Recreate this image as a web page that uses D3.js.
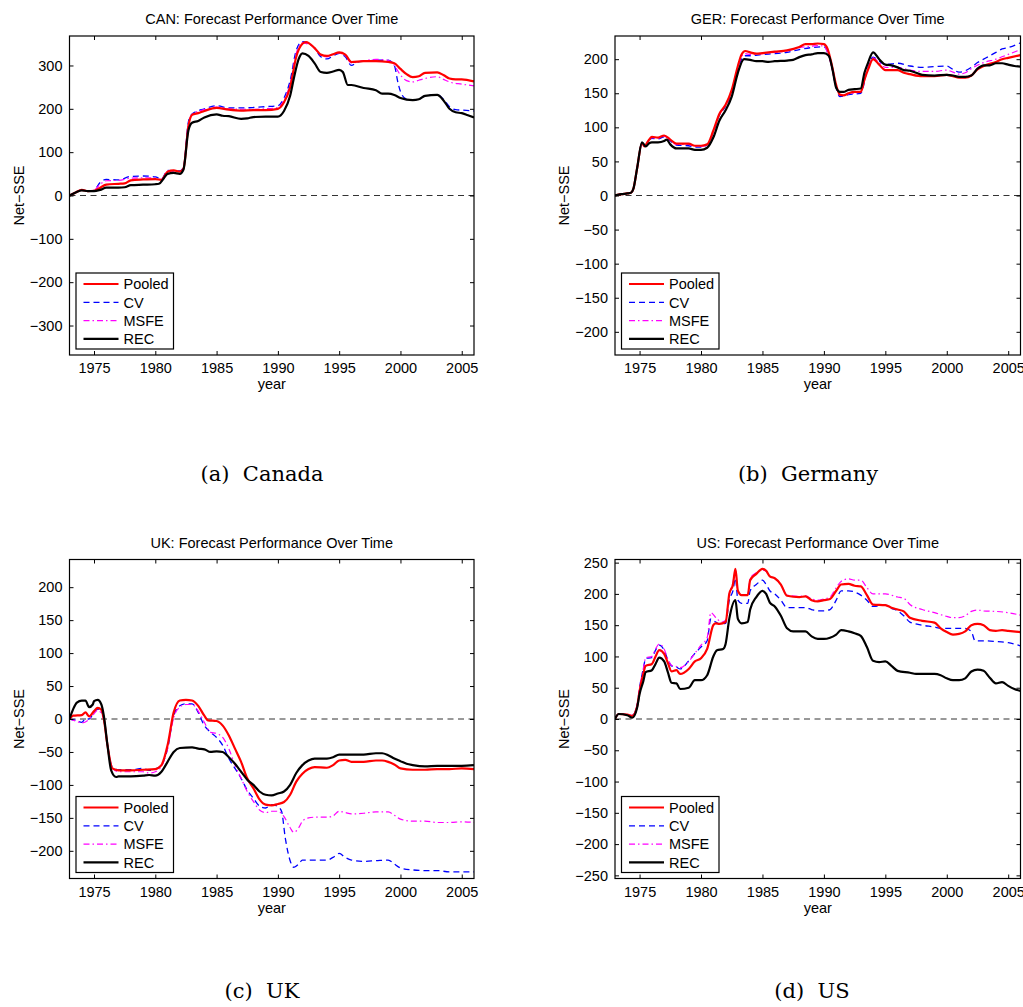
<!DOCTYPE html>
<html><head><meta charset="utf-8">
<script src="https://cdn.jsdelivr.net/npm/d3@7"></script>
<style>body{margin:0;background:#fff}svg{display:block}</style>
</head><body>
<svg id="chart" width="1023" height="1007"></svg>
<script>
// ---------------- DATA ----------------
const xTicks = [1975,1980,1985,1990,1995,2000,2005];
const seriesNames = ["Pooled","CV","MSFE","REC"];
const panelTitles = ["CAN: Forecast Performance Over Time","GER: Forecast Performance Over Time","UK: Forecast Performance Over Time","US: Forecast Performance Over Time"];
const captions = ["(a)  Canada","(b)  Germany","(c)  UK","(d)  US"];
const yLimits = [368,234,242,255];
const yTicksCAN = [-300,-200,-100,0,100,200,300];
const yTicksGER = [-200,-150,-100,-50,0,50,100,150,200];
const yTicksUK  = [-200,-150,-100,-50,0,50,100,150,200];
const yTicksUS  = [-250,-200,-150,-100,-50,0,50,100,150,200,250];

// Canada
const canPooled = [[1973,0],[1973.5,7],[1974,13],[1974.5,10],[1975,11],[1975.5,18],[1976,25],[1977,27],[1977.5,28],[1978,35],[1979,37],[1980,38],[1980.5,36],[1981,55],[1981.5,58],[1982,55],[1982.3,62],[1982.7,160],[1983,186],[1983.5,190],[1984,195],[1985,202],[1986,198],[1987,196],[1988,197],[1989,197],[1990,200],[1990.5,215],[1991,250],[1991.5,320],[1992,350],[1992.3,354],[1993,340],[1993.5,325],[1994,322],[1994.5,326],[1995,330],[1995.5,325],[1996,308],[1997,310],[1998,310],[1999,308],[1999.5,305],[2000,292],[2000.5,280],[2001,273],[2001.5,275],[2002,283],[2003,284],[2003.5,278],[2004,270],[2004.5,268],[2005,268],[2006,263]];
const canCV = [[1973,0],[1973.5,7],[1974,13],[1974.5,10],[1975,12],[1975.5,30],[1976,37],[1977,36],[1978,44],[1979,45],[1980,43],[1980.5,38],[1981,58],[1981.5,57],[1982,57],[1982.3,65],[1982.7,170],[1983,188],[1984,200],[1985,207],[1986,202],[1987,202],[1988,203],[1989,205],[1990,207],[1990.5,225],[1991,265],[1991.5,335],[1992,355],[1993,340],[1993.5,320],[1994,315],[1994.5,322],[1995,328],[1995.5,320],[1996,300],[1996.5,308],[1997,310],[1998,312],[1999,312],[1999.5,300],[1999.8,260],[2000,240],[2000.5,222],[2001,220],[2001.5,222],[2002,230],[2003,233],[2003.5,222],[2004,205],[2004.5,198],[2005,197],[2006,195]];
const canMSFE = [[1973,0],[1973.5,7],[1974,13],[1974.5,10],[1975,12],[1975.5,26],[1976,34],[1977,35],[1978,40],[1979,41],[1980,40],[1980.5,37],[1981,57],[1981.5,57],[1982,56],[1982.3,63],[1982.7,165],[1983,187],[1984,198],[1985,204],[1986,200],[1987,199],[1988,199],[1989,200],[1990,203],[1990.5,220],[1991,258],[1991.5,328],[1992,352],[1993,340],[1993.5,323],[1994,320],[1994.5,325],[1995,329],[1995.5,322],[1996,306],[1997,311],[1998,314],[1999,312],[1999.5,300],[2000,278],[2000.5,265],[2001,262],[2001.5,266],[2002,270],[2003,274],[2003.5,268],[2004,262],[2005,257],[2006,253]];
const canREC = [[1973,0],[1973.5,7],[1974,12],[1974.5,10],[1975,10],[1975.5,13],[1976,18],[1977,18],[1977.5,19],[1978,24],[1979,25],[1980,26],[1980.3,27],[1980.7,40],[1981,50],[1981.5,52],[1982,50],[1982.3,60],[1982.7,150],[1983,168],[1983.5,172],[1984,180],[1985,187],[1985.5,184],[1986,183],[1987,177],[1987.5,178],[1988,181],[1989,182],[1990,182],[1990.5,195],[1991,230],[1991.3,270],[1991.7,315],[1992,328],[1992.5,322],[1993,305],[1993.5,285],[1994,283],[1994.5,286],[1995,290],[1995.3,285],[1995.7,255],[1996,255],[1997,248],[1998,243],[1998.5,235],[1999,235],[1999.5,232],[2000,225],[2001,220],[2001.5,222],[2002,230],[2003,232],[2003.5,220],[2004,200],[2004.5,192],[2005,190],[2005.5,185],[2006,180]];

// Germany
const gerPooled = [[1973,0],[1973.5,2],[1974,3],[1974.3,4],[1974.5,10],[1974.8,40],[1975.2,77],[1975.4,72],[1975.7,80],[1976,86],[1976.5,85],[1977,88],[1977.5,82],[1978,76],[1979,76],[1979.5,73],[1980,73],[1980.5,75],[1981,95],[1981.5,120],[1982,133],[1982.5,155],[1983,190],[1983.3,207],[1983.6,212],[1984,210],[1984.5,208],[1985,209],[1986,211],[1987,213],[1988,218],[1988.5,222],[1989,222],[1989.5,223],[1990,222],[1990.3,215],[1990.6,195],[1991,162],[1991.3,148],[1991.6,147],[1992,150],[1992.5,152],[1993,152],[1993.3,170],[1993.6,185],[1994,200],[1994.5,192],[1995,184],[1996,184],[1996.5,180],[1997,178],[1998,175],[1999,175],[2000,177],[2000.5,175],[2001,173],[2001.5,173],[2002,176],[2002.5,185],[2003,190],[2004,196],[2004.5,200],[2005,202],[2006,206]];
const gerCV = [[1973,0],[1973.5,2],[1974,3],[1974.3,4],[1974.5,10],[1974.8,40],[1975.2,77],[1975.4,72],[1975.7,80],[1976,84],[1976.5,83],[1977,86],[1977.5,80],[1978,74],[1979,73],[1979.5,71],[1980,71],[1980.5,74],[1981,93],[1981.5,118],[1982,131],[1982.5,152],[1983,186],[1983.3,200],[1983.6,205],[1984,205],[1985,207],[1986,208],[1987,210],[1988,214],[1989,217],[1990,218],[1990.5,200],[1991,158],[1991.3,145],[1992,148],[1993,150],[1993.5,182],[1994,203],[1994.5,197],[1995,192],[1996,194],[1997,190],[1998,188],[1999,189],[2000,190],[2000.5,185],[2001,181],[2001.5,183],[2002,188],[2002.5,195],[2003,200],[2003.5,205],[2004,210],[2004.5,215],[2005,217],[2006,224]];
const gerMSFE = [[1973,0],[1973.5,2],[1974,3],[1974.3,4],[1974.5,10],[1974.8,40],[1975.2,77],[1975.4,72],[1975.7,80],[1976,85],[1976.5,84],[1977,87],[1977.5,81],[1978,75],[1979,75],[1979.5,72],[1980,72],[1980.5,74],[1981,94],[1981.5,119],[1982,132],[1982.5,154],[1983,188],[1983.3,204],[1983.6,208],[1984,207],[1985,208],[1986,210],[1987,212],[1988,217],[1989,219],[1989.5,220],[1990,219],[1990.5,198],[1991,160],[1991.3,147],[1992,149],[1993,152],[1993.5,182],[1994,202],[1994.5,195],[1995,188],[1996,188],[1997,184],[1998,182],[1999,182],[2000,184],[2000.5,181],[2001,178],[2001.5,180],[2002,186],[2003,195],[2004,200],[2005,207],[2006,214]];
const gerREC = [[1973,0],[1973.5,2],[1974,3],[1974.3,4],[1974.5,10],[1974.8,40],[1975.2,78],[1975.5,72],[1975.8,77],[1976,78],[1976.5,78],[1977,80],[1977.2,82],[1977.5,75],[1978,69],[1979,69],[1979.5,67],[1980,67],[1980.5,70],[1981,85],[1981.5,110],[1982,125],[1982.5,145],[1983,180],[1983.5,200],[1984,199],[1984.5,197],[1985,197],[1985.5,196],[1986,197],[1987,198],[1987.5,199],[1988,203],[1988.5,206],[1989,207],[1989.5,209],[1990,209],[1990.4,205],[1990.7,185],[1991,158],[1991.3,152],[1991.6,152],[1992,155],[1992.5,156],[1993,157],[1993.3,180],[1993.6,195],[1994,210],[1994.5,200],[1995,192],[1995.5,191],[1996,188],[1996.5,184],[1997,183],[1997.5,180],[1998,177],[1999,176],[2000,177],[2000.5,176],[2001,174],[2001.5,174],[2002,176],[2002.5,186],[2003,191],[2003.5,191],[2004,194],[2004.5,194],[2005,192],[2005.5,190],[2006,189]];

// UK
const ukPooled = [[1973,0],[1973.3,5],[1974,6],[1974.3,10],[1974.6,4],[1975,12],[1975.3,17],[1975.6,14],[1975.8,0],[1976.1,-40],[1976.5,-75],[1977,-78],[1978,-78],[1979,-77],[1980,-76],[1980.5,-70],[1981,-40],[1981.5,10],[1982,28],[1982.5,29],[1983,28],[1983.5,20],[1984,5],[1984.3,-2],[1985,-3],[1985.5,-10],[1986,-25],[1986.5,-45],[1987,-65],[1987.5,-90],[1988,-105],[1988.5,-122],[1989,-130],[1989.5,-131],[1990,-129],[1990.5,-126],[1991,-115],[1991.5,-95],[1992,-83],[1992.5,-76],[1993,-73],[1994,-74],[1994.5,-70],[1995,-63],[1995.5,-62],[1996,-65],[1997,-65],[1998,-63],[1998.5,-63],[1999,-65],[1999.5,-69],[2000,-75],[2001,-77],[2002,-77],[2003,-76],[2004,-76],[2005,-75],[2006,-76]];
const ukCV = [[1973,0],[1973.5,-2],[1974,-5],[1974.3,0],[1974.6,0],[1975,10],[1975.3,15],[1975.6,12],[1975.8,0],[1976.1,-40],[1976.5,-73],[1977,-77],[1978,-77],[1979,-75],[1979.5,-78],[1980,-76],[1980.5,-70],[1981,-45],[1981.5,5],[1982,20],[1982.5,23],[1983,23],[1983.5,10],[1984,-10],[1984.5,-20],[1985,-28],[1985.5,-40],[1986,-60],[1986.5,-75],[1987,-90],[1987.5,-108],[1988,-120],[1988.5,-132],[1989,-135],[1989.5,-130],[1990,-133],[1990.3,-140],[1990.6,-180],[1991,-215],[1991.3,-225],[1991.7,-220],[1992,-214],[1993,-214],[1994,-214],[1994.5,-210],[1995,-204],[1995.5,-210],[1996,-214],[1997,-216],[1998,-215],[1999,-214],[1999.5,-220],[2000,-226],[2001,-229],[2002,-230],[2003,-230],[2004,-232],[2005,-232],[2006,-232]];
const ukMSFE = [[1973,0],[1973.5,-3],[1974,-6],[1974.5,-2],[1975,8],[1975.3,13],[1975.8,0],[1976.1,-40],[1976.5,-75],[1977,-80],[1978,-80],[1979,-80],[1979.5,-82],[1980,-80],[1980.5,-72],[1981,-45],[1981.5,2],[1982,18],[1982.5,22],[1983,22],[1983.5,12],[1984,-5],[1984.5,-20],[1985,-22],[1985.5,-28],[1986,-45],[1986.5,-70],[1987,-90],[1987.5,-110],[1988,-125],[1988.5,-138],[1989,-142],[1989.5,-140],[1990,-140],[1990.5,-148],[1991,-165],[1991.3,-172],[1991.7,-165],[1992,-155],[1992.5,-150],[1993,-149],[1994,-149],[1994.5,-147],[1995,-140],[1995.5,-142],[1996,-144],[1997,-143],[1998,-141],[1999,-141],[1999.5,-146],[2000,-152],[2001,-155],[2002,-155],[2003,-157],[2004,-157],[2005,-156],[2006,-157]];
const ukREC = [[1973,0],[1973.3,15],[1973.6,25],[1974,28],[1974.3,28],[1974.6,18],[1974.9,22],[1975,27],[1975.3,29],[1975.6,22],[1975.8,5],[1976.1,-40],[1976.4,-78],[1976.8,-88],[1977,-87],[1978,-87],[1979,-86],[1979.5,-85],[1980,-86],[1980.5,-80],[1981,-65],[1981.5,-50],[1982,-44],[1983,-43],[1983.5,-45],[1984,-46],[1984.5,-50],[1985,-49],[1985.5,-50],[1986,-58],[1986.5,-68],[1987,-80],[1987.5,-92],[1988,-100],[1988.5,-110],[1989,-115],[1989.5,-116],[1990,-113],[1990.5,-110],[1991,-100],[1991.5,-82],[1992,-70],[1992.5,-63],[1993,-60],[1994,-60],[1994.5,-58],[1995,-54],[1996,-54],[1997,-54],[1998,-52],[1998.5,-52],[1999,-55],[1999.5,-60],[2000,-64],[2000.5,-68],[2001,-70],[2002,-72],[2003,-71],[2004,-71],[2005,-71],[2006,-70]];

// US
const usPooled = [[1973,0],[1973.3,8],[1974,7],[1974.4,5],[1974.8,20],[1975,45],[1975.3,72],[1975.5,85],[1976,88],[1976.3,100],[1976.6,110],[1977,104],[1977.3,90],[1977.6,76],[1978,78],[1978.3,72],[1979,80],[1979.5,92],[1980,97],[1980.5,112],[1981,150],[1981.2,153],[1981.5,152],[1982,155],[1982.3,200],[1982.6,215],[1982.8,240],[1983,205],[1983.3,198],[1983.8,198],[1984,222],[1984.5,232],[1985,240],[1985.3,237],[1985.6,228],[1986,225],[1986.5,215],[1987,197],[1988,195],[1988.5,196],[1989,190],[1989.5,188],[1990,190],[1990.5,192],[1991,205],[1991.4,215],[1992,216],[1992.5,213],[1993,212],[1993.5,198],[1994,183],[1995,182],[1995.5,178],[1996,175],[1996.5,172],[1997,162],[1998,157],[1999,154],[1999.5,145],[2000,139],[2000.5,135],[2001,136],[2001.5,140],[2002,150],[2002.5,152],[2003,150],[2003.5,142],[2004,141],[2004.5,142],[2005,141],[2006,139]];
const usCV = [[1973,0],[1973.3,8],[1974,7],[1974.4,6],[1974.8,22],[1975,50],[1975.3,80],[1975.5,97],[1976,98],[1976.3,110],[1976.6,118],[1977,110],[1977.3,95],[1977.6,85],[1978,83],[1978.3,80],[1979,93],[1979.5,105],[1980,115],[1980.5,125],[1980.8,160],[1981.2,155],[1981.5,152],[1982,153],[1982.3,190],[1982.6,205],[1982.8,225],[1983,190],[1983.3,185],[1983.8,185],[1984,205],[1984.5,215],[1985,222],[1985.3,215],[1985.6,205],[1986,200],[1986.5,190],[1987,178],[1988,178],[1988.5,178],[1989,175],[1989.5,173],[1990,173],[1990.5,175],[1991,190],[1991.4,205],[1992,205],[1992.5,203],[1993,198],[1993.5,190],[1994,180],[1995,182],[1995.5,177],[1996,173],[1996.5,165],[1997,155],[1998,150],[1999,147],[1999.5,145],[2000,145],[2000.5,145],[2001,145],[2001.5,145],[2002,140],[2002.3,125],[2003,125],[2004,124],[2005,122],[2006,117]];
const usMSFE = [[1973,0],[1973.3,8],[1974,7],[1974.4,6],[1974.8,22],[1975,50],[1975.3,80],[1975.5,98],[1976,100],[1976.3,112],[1976.6,120],[1977,112],[1977.3,96],[1977.6,86],[1978,84],[1978.3,82],[1979,92],[1979.5,105],[1980,118],[1980.5,130],[1980.8,170],[1981.3,160],[1981.7,155],[1982,158],[1982.3,200],[1982.6,218],[1982.8,238],[1983,205],[1983.3,198],[1983.8,198],[1984,225],[1984.5,234],[1985,238],[1985.3,236],[1985.6,228],[1986,225],[1986.5,215],[1987,198],[1988,196],[1988.5,197],[1989,192],[1989.5,190],[1990,192],[1990.5,195],[1991,210],[1991.4,220],[1992,224],[1992.5,222],[1993,222],[1993.5,210],[1994,200],[1995,200],[1996,195],[1996.5,193],[1997,183],[1998,175],[1999,170],[2000,164],[2000.5,162],[2001,162],[2001.5,165],[2002,172],[2002.5,174],[2003,173],[2004,172],[2005,170],[2006,166]];
const usREC = [[1973,0],[1973.3,8],[1974,6],[1974.4,2],[1974.8,18],[1975,40],[1975.3,60],[1975.5,75],[1976,78],[1976.3,88],[1976.6,98],[1977,92],[1977.3,75],[1977.6,58],[1978,57],[1978.3,48],[1979,50],[1979.5,62],[1980,62],[1980.5,70],[1981,100],[1981.3,110],[1981.8,112],[1982,120],[1982.3,160],[1982.8,190],[1983,160],[1983.3,153],[1983.8,155],[1984,175],[1984.5,195],[1985,205],[1985.3,200],[1985.6,186],[1986,180],[1986.5,165],[1987,145],[1987.5,140],[1988,140],[1988.5,140],[1989,132],[1989.5,128],[1990,128],[1990.5,130],[1991,135],[1991.4,142],[1992,140],[1992.5,137],[1993,133],[1993.5,115],[1994,93],[1994.5,91],[1995,92],[1995.5,85],[1996,77],[1997,74],[1997.5,72],[1998,72],[1999,72],[1999.5,70],[2000,65],[2000.5,62],[2001,62],[2001.5,65],[2002,76],[2002.5,79],[2003,77],[2003.5,66],[2004,57],[2004.5,59],[2005,53],[2005.5,48],[2006,45]];

// ---------------- DRAW ----------------
const panelSeries = [
  [canPooled, canCV, canMSFE, canREC],
  [gerPooled, gerCV, gerMSFE, gerREC],
  [ukPooled, ukCV, ukMSFE, ukREC],
  [usPooled, usCV, usMSFE, usREC]
];
const panelYTicks = [yTicksCAN, yTicksGER, yTicksUK, yTicksUS];
const boxes = [
  {l:69.5, r:474, t:36, b:355},
  {l:615, r:1020.5, t:36, b:355},
  {l:69.5, r:474, t:559.5, b:878.5},
  {l:615, r:1020.5, t:559.5, b:878.5}
];
const captionPos = [[262,481],[808,481],[262,998],[812,998]];
const styles = [
  {color:"#ff0000", width:2.2, dash:null},
  {color:"#0000ff", width:1.3, dash:"6,4"},
  {color:"#ff00ff", width:1.2, dash:"6,3,1.5,3"},
  {color:"#000000", width:2.2, dash:null}
];
const drawOrder = [1,2,0,3];
const FONT = "'Liberation Sans', Arial, Helvetica, sans-serif";
const svg = d3.select("#chart");

boxes.forEach((bx, i) => {
  const x = d3.scaleLinear().domain([1973, 2006]).range([bx.l, bx.r]);
  const y = d3.scaleLinear().domain([-yLimits[i], yLimits[i]]).range([bx.b, bx.t]);
  const g = svg.append("g");
  const clipId = "clip" + i;
  svg.append("clipPath").attr("id", clipId).append("rect")
    .attr("x", bx.l).attr("y", bx.t).attr("width", bx.r - bx.l).attr("height", bx.b - bx.t);

  // zero line
  g.append("line").attr("x1", bx.l).attr("x2", bx.r).attr("y1", y(0)).attr("y2", y(0))
    .attr("stroke", "#333").attr("stroke-width", 1).attr("stroke-dasharray", "6,4.5");

  // series
  const line = d3.line().x(d => x(d[0])).y(d => y(d[1])).curve(d3.curveMonotoneX);
  const lg = g.append("g").attr("clip-path", `url(#${clipId})`);
  drawOrder.forEach(k => {
    const s = styles[k];
    lg.append("path").datum(panelSeries[i][k]).attr("d", line)
      .attr("fill", "none").attr("stroke", s.color).attr("stroke-width", s.width)
      .attr("stroke-dasharray", s.dash).attr("stroke-linejoin", "round");
  });

  // axes (ticks inward)
  const tl = 4;
  const axB = d3.axisBottom(x).tickValues(xTicks).tickFormat(d3.format("d")).tickSizeInner(-tl).tickSizeOuter(0).tickPadding(8);
  const axT = d3.axisTop(x).tickValues(xTicks).tickFormat("").tickSizeInner(-tl).tickSizeOuter(0);
  const axL = d3.axisLeft(y).tickValues(panelYTicks[i]).tickFormat(d => d < 0 ? "\u2212" + Math.abs(d) : d).tickSizeInner(-tl).tickSizeOuter(0).tickPadding(7);
  const axR = d3.axisRight(y).tickValues(panelYTicks[i]).tickFormat("").tickSizeInner(-tl).tickSizeOuter(0);
  [[axB, `translate(0,${bx.b})`],[axT, `translate(0,${bx.t})`],[axL, `translate(${bx.l},0)`],[axR, `translate(${bx.r},0)`]].forEach(([ax, tr]) => {
    const a = g.append("g").attr("transform", tr).call(ax);
    a.select(".domain").remove();
    a.selectAll("line").attr("stroke", "#000").attr("stroke-width", 1);
    a.selectAll("text").attr("font-family", FONT).attr("font-size", 14.5).attr("fill", "#000");
  });

  // frame
  g.append("rect").attr("x", bx.l).attr("y", bx.t).attr("width", bx.r - bx.l).attr("height", bx.b - bx.t)
    .attr("fill", "none").attr("stroke", "#000").attr("stroke-width", 1.2);

  // title
  g.append("text").attr("x", (bx.l + bx.r) / 2).attr("y", bx.t - 12).attr("text-anchor", "middle")
    .attr("font-family", FONT).attr("font-size", 14.5).text(panelTitles[i]);
  // x label
  g.append("text").attr("x", (bx.l + bx.r) / 2).attr("y", bx.b + 34).attr("text-anchor", "middle")
    .attr("font-family", FONT).attr("font-size", 14.5).text("year");
  // y label
  g.append("text").attr("transform", `translate(${bx.l - 46},${(bx.t + bx.b) / 2}) rotate(-90)`)
    .attr("text-anchor", "middle").attr("font-family", FONT).attr("font-size", 14.5).text("Net\u2212SSE");

  // legend
  const lx = bx.l + 6.5, ly = bx.b - 82;
  const leg = g.append("g");
  leg.append("rect").attr("x", lx).attr("y", ly).attr("width", 97.5).attr("height", 76)
    .attr("fill", "#fff").attr("stroke", "#000").attr("stroke-width", 1.2);
  seriesNames.forEach((nm, k) => {
    const yy = ly + 11 + k * 18.3;
    const s = styles[k];
    leg.append("line").attr("x1", lx + 7.5).attr("x2", lx + 42.5).attr("y1", yy).attr("y2", yy)
      .attr("stroke", s.color).attr("stroke-width", s.width).attr("stroke-dasharray", s.dash);
    leg.append("text").attr("x", lx + 47.5).attr("y", yy + 5.3).attr("font-family", FONT)
      .attr("font-size", 14.5).text(nm);
  });

  // caption
  svg.append("text").attr("x", captionPos[i][0]).attr("y", captionPos[i][1]).attr("text-anchor", "middle")
    .attr("font-family", "'DejaVu Serif', 'Liberation Serif', serif").attr("font-size", 21)
    .style("white-space", "pre").text(captions[i]);
});
</script>
</body></html>
